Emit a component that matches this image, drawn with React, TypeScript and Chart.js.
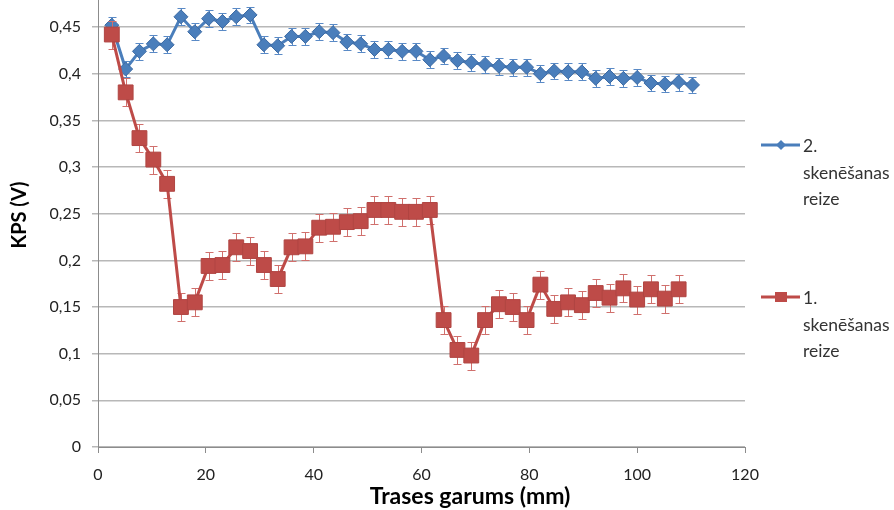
import React, { useEffect, useRef } from 'react';
import { Chart, registerables } from 'chart.js';

Chart.register(...registerables);

// x positions (mm)
const xValues = [2.56, 5.13, 7.69, 10.26, 12.82, 15.38, 17.95, 20.51, 23.08, 25.64, 28.21, 30.77, 33.33, 35.9, 38.46, 41.03, 43.59, 46.15, 48.72, 51.28, 53.85, 56.41, 58.97, 61.54, 64.1, 66.67, 69.23, 71.79, 74.36, 76.92, 79.49, 82.05, 84.62, 87.18, 89.74, 92.31, 94.87, 97.44, 100.0, 102.56, 105.13, 107.69, 110.26];

// "2. skenēšanas reize" (blue)
const series2 = [0.452, 0.405, 0.424, 0.432, 0.431, 0.461, 0.445, 0.459, 0.456, 0.461, 0.463, 0.431, 0.430, 0.440, 0.440, 0.445, 0.444, 0.434, 0.432, 0.426, 0.426, 0.424, 0.424, 0.415, 0.419, 0.414, 0.412, 0.410, 0.408, 0.407, 0.407, 0.400, 0.403, 0.402, 0.402, 0.395, 0.397, 0.395, 0.396, 0.390, 0.389, 0.391, 0.388];

// "1. skenēšanas reize" (red)
const series1 = [0.442, 0.380, 0.331, 0.308, 0.282, 0.150, 0.155, 0.194, 0.195, 0.214, 0.210, 0.195, 0.180, 0.214, 0.215, 0.235, 0.236, 0.241, 0.242, 0.254, 0.254, 0.252, 0.252, 0.254, 0.136, 0.104, 0.098, 0.136, 0.153, 0.150, 0.136, 0.174, 0.148, 0.155, 0.152, 0.165, 0.160, 0.170, 0.158, 0.169, 0.159, 0.169];

const error1 = 0.015;
const error2 = 0.009;

const legendLabels2 = ['2.', 'skenēšanas', 'reize'];
const legendLabels1 = ['1.', 'skenēšanas', 'reize'];
const yTitle = 'KPS (V)';
const xTitle = 'Trases garums (mm)';

const BLUE = '#4a7ebb';
const RED = '#be4b48';
const FONT = 'Lato, "Noto Sans", sans-serif';

const errorsByDataset = [error1, error2];
const errorColors = ['#d0706d', '#5a8ac6'];

const extrasPlugin = {
  id: 'extras',
  beforeDatasetDraw(chart: any, args: any) {
    const idx = args.index;
    const meta = chart.getDatasetMeta(idx);
    const ds = chart.data.datasets[idx];
    const ys = chart.scales.y;
    const err = errorsByDataset[idx];
    const ctx = chart.ctx;
    ctx.save();
    ctx.strokeStyle = errorColors[idx];
    ctx.lineWidth = 1;
    meta.data.forEach((el: any, i: number) => {
      const v = ds.data[i].y;
      const x = Math.round(el.x) + 0.5;
      const yTop = Math.round(ys.getPixelForValue(v + err)) + 0.5;
      const yBot = Math.round(ys.getPixelForValue(v - err)) + 0.5;
      ctx.beginPath();
      ctx.moveTo(x, yTop);
      ctx.lineTo(x, yBot);
      ctx.moveTo(x - 4, yTop);
      ctx.lineTo(x + 4, yTop);
      ctx.moveTo(x - 4, yBot);
      ctx.lineTo(x + 4, yBot);
      ctx.stroke();
    });
    ctx.restore();
  },
  afterDraw(chart: any) {
    const ctx = chart.ctx;
    const area = chart.chartArea;
    ctx.save();
    ctx.fillStyle = '#000000';
    // y title
    ctx.font = `bold 20px ${FONT}`;
    ctx.textAlign = 'center';
    ctx.textBaseline = 'alphabetic';
    ctx.save();
    ctx.translate(26, 215);
    ctx.rotate(-Math.PI / 2);
    ctx.fillText(yTitle, 0, 0);
    ctx.restore();
    // x title
    ctx.font = `bold 23px ${FONT}`;
    ctx.fillText(xTitle, 470, 504);

    // legend
    const lx = area.right + 16;
    const drawEntry = (y: number, color: string, shape: string, lines: string[]) => {
      ctx.strokeStyle = color;
      ctx.lineWidth = 3;
      ctx.beginPath();
      ctx.moveTo(lx, y);
      ctx.lineTo(lx + 39, y);
      ctx.stroke();
      ctx.fillStyle = color;
      const cx = lx + 20;
      if (shape === 'diamond') {
        ctx.beginPath();
        ctx.moveTo(cx - 5, y);
        ctx.lineTo(cx, y - 5);
        ctx.lineTo(cx + 5, y);
        ctx.lineTo(cx, y + 5);
        ctx.closePath();
        ctx.fill();
      } else {
        ctx.fillRect(cx - 6, y - 5, 12, 10);
      }
      ctx.fillStyle = '#333333';
      ctx.font = `17.5px ${FONT}`;
      ctx.textAlign = 'left';
      ctx.textBaseline = 'alphabetic';
      lines.forEach((t, i) => ctx.fillText(t, lx + 42, y + 7 + i * 26.5));
    };
    drawEntry(145, BLUE, 'diamond', legendLabels2);
    drawEntry(297, RED, 'square', legendLabels1);
    ctx.restore();
  },
};

export default function App() {
  const ref = useRef<HTMLCanvasElement>(null);
  useEffect(() => {
    document.body.style.margin = '0';
    const pts = (ys: number[]) => ys.map((y, i) => ({ x: xValues[i], y }));
    const chart = new Chart(ref.current!, {
      type: 'line',
      data: {
        datasets: [
          {
            label: '1. skenēšanas reize',
            data: pts(series1),
            borderColor: RED,
            backgroundColor: RED,
            borderWidth: 3,
            pointStyle: 'rect',
            pointRadius: 10.5,
            pointBorderColor: '#b04542',
            pointBorderWidth: 1,
            tension: 0,
          },
          {
            label: '2. skenēšanas reize',
            data: pts(series2),
            borderColor: BLUE,
            backgroundColor: BLUE,
            borderWidth: 3,
            pointStyle: 'rectRot',
            pointRadius: 7,
            pointBorderColor: '#3c6aa3',
            pointBorderWidth: 1,
            tension: 0,
          },
        ],
      },
      options: {
        animation: false,
        responsive: true,
        maintainAspectRatio: false,
        layout: { autoPadding: false, padding: { left: 0, right: 149, top: 0, bottom: 0 } },
        plugins: {
          legend: { display: false },
          tooltip: { enabled: false },
        },
        scales: {
          x: {
            type: 'linear',
            min: 0,
            max: 120,
            ticks: {
              stepSize: 20,
              color: '#222',
              font: { family: FONT, size: 16 },
              padding: 12,
            },
            grid: { drawOnChartArea: false, drawTicks: true, tickLength: 6, color: '#8c8c8c' },
            border: { color: '#8c8c8c', width: 1 },
            afterFit: (s: any) => {
              s.height = 63;
              s.paddingLeft = 0;
              s.paddingRight = 0;
            },
          },
          y: {
            type: 'linear',
            min: 0,
            max: 0.479,
            afterBuildTicks: (s: any) => {
              s.ticks = s.ticks.filter((t: any) => Math.abs(t.value / 0.05 - Math.round(t.value / 0.05)) < 1e-6);
            },
            ticks: {
              stepSize: 0.05,
              color: '#222',
              font: { family: FONT, size: 16 },
              padding: 11,
              callback: (v: any) => String(Math.round(Number(v) * 100) / 100).replace('.', ','),
            },
            grid: { color: '#b8b8b8', lineWidth: 1.5, tickLength: 6 },
            border: { color: '#8c8c8c', width: 1 },
            afterFit: (s: any) => {
              s.width = 98;
              s.paddingTop = 0;
              s.paddingBottom = 0;
            },
          },
        },
      },
      plugins: [extrasPlugin],
    });
    return () => chart.destroy();
  }, []);
  return (
    <div style={{ position: 'relative', width: 894, height: 510 }}>
      <canvas ref={ref} />
    </div>
  );
}
